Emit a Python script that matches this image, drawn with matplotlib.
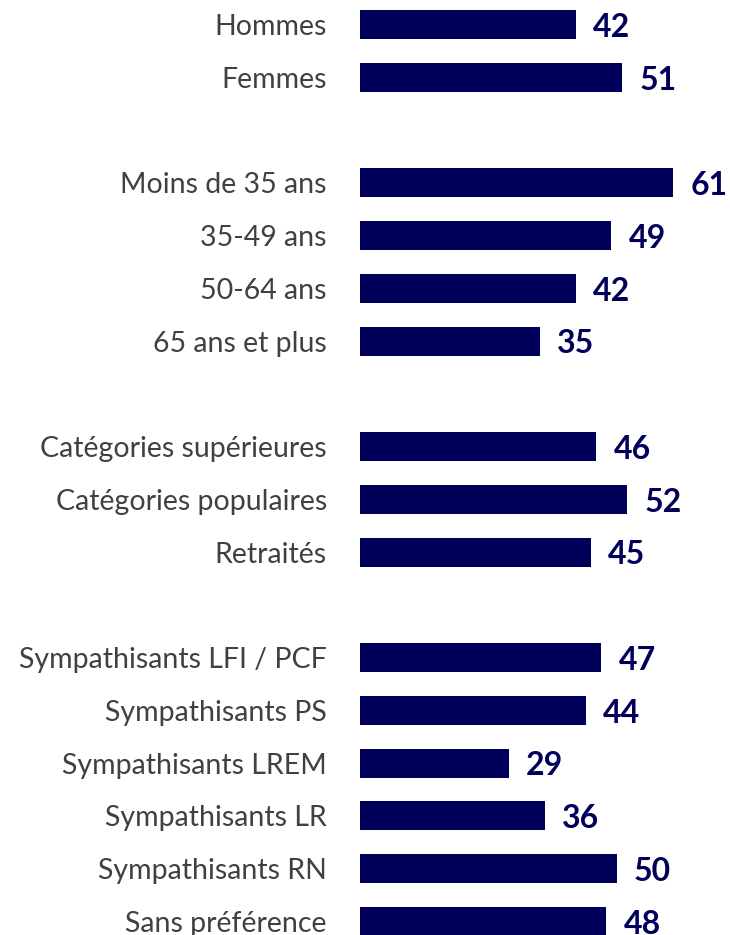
import matplotlib
matplotlib.use("Agg")
import matplotlib.pyplot as plt

categories = [
    "Hommes", "Femmes",
    "Moins de 35 ans", "35-49 ans", "50-64 ans", "65 ans et plus",
    "Catégories supérieures", "Catégories populaires", "Retraités",
    "Sympathisants LFI / PCF", "Sympathisants PS", "Sympathisants LREM",
    "Sympathisants LR", "Sympathisants RN", "Sans préférence",
]
values = [42, 51, 61, 49, 42, 35, 46, 52, 45, 47, 44, 29, 36, 50, 48]
groups = [2, 4, 3, 6]

positions = []
p = 0
for g in groups:
    for _ in range(g):
        positions.append(p)
        p += 1
    p += 1

navy = "#00005a"
plt.rcParams['font.family'] = ['Lato', 'DejaVu Sans']

fig = plt.figure(figsize=(7.30, 9.35), dpi=100)
ax = fig.add_axes([360 / 730, 0, 370 / 730, 1])
ax.barh(positions, values, height=0.55, color=navy)
ax.set_xlim(0, 72.1)
ax.set_ylim(17.257, -0.464)
ax.set_yticks(positions)
ax.set_yticklabels(categories, fontsize=20.5, color="#404040")
ax.tick_params(axis="y", length=0, pad=23.8)
ax.set_xticks([])
for s in ax.spines.values():
    s.set_visible(False)

for y, v in zip(positions, values):
    ax.annotate(str(v), xy=(v, y), xytext=(12.5, -2), textcoords="offset points",
                ha="left", va="center", fontsize=23, fontweight="bold", color=navy)

fig.savefig("out.png", dpi=100)
